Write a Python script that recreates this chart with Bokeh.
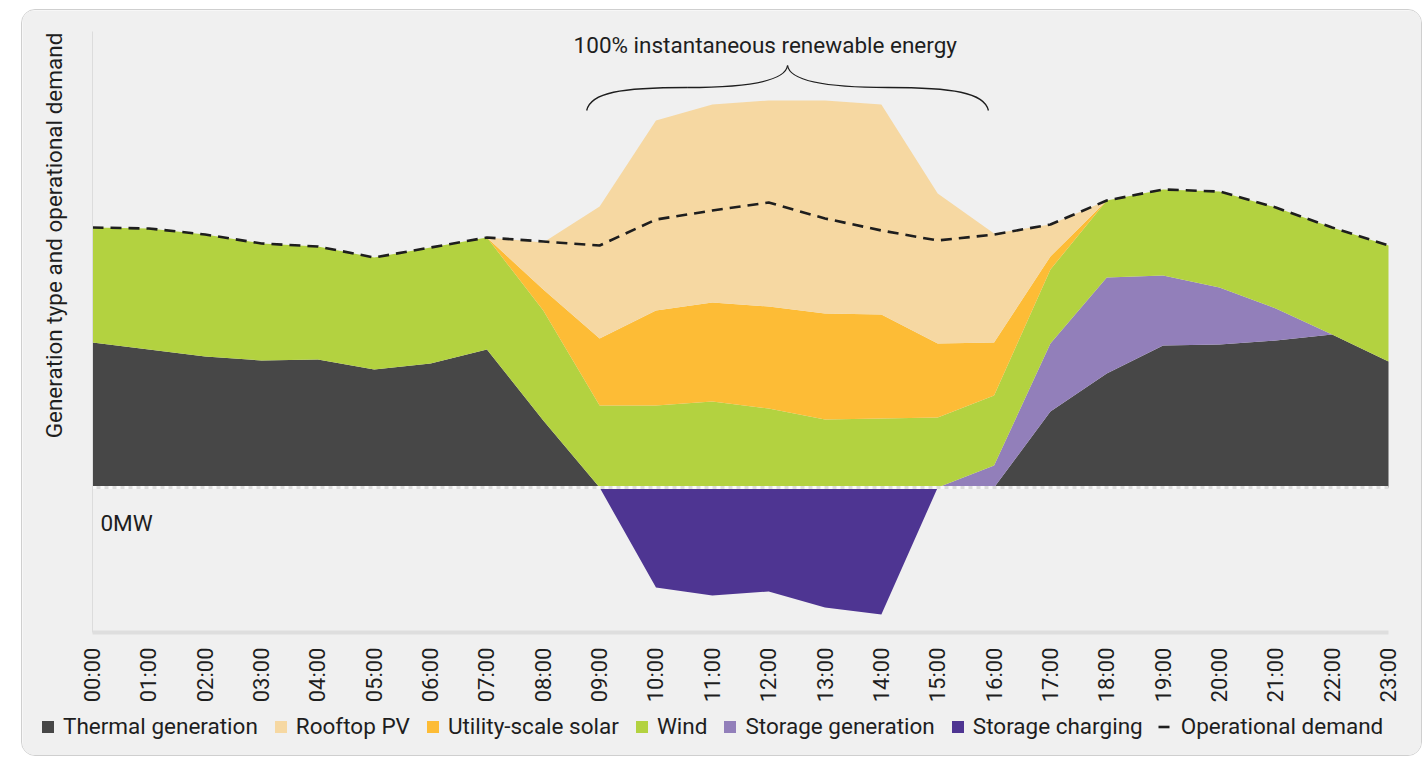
from math import pi
from bokeh.plotting import figure
from bokeh.models import (ColumnDataSource, Range1d, FixedTicker, Label,
                          Legend, LegendItem)
from bokeh.embed import file_html
from bokeh.resources import INLINE

# ---------------- data (MW) ----------------
hour_labels = ["00:00", "01:00", "02:00", "03:00", "04:00", "05:00", "06:00", "07:00",
               "08:00", "09:00", "10:00", "11:00", "12:00", "13:00", "14:00", "15:00",
               "16:00", "17:00", "18:00", "19:00", "20:00", "21:00", "22:00", "23:00"]
hours = list(range(24))

thermal = [1450, 1380, 1310, 1270, 1280, 1180, 1240, 1380, 670, 0, 0, 0,
           0, 0, 0, 0, 0, 760, 1140, 1420, 1430, 1470, 1530, 1260]
storage_gen = [0, 0, 0, 0, 0, 0, 0, 0, 0, 0, 0, 0,
               0, 0, 0, 0, 220, 680, 960, 700, 570, 320, 0, 0]
wind = [1150, 1210, 1220, 1170, 1130, 1120, 1160, 1120, 1100, 820, 820, 860,
        790, 680, 690, 700, 700, 740, 770, 860, 960, 1010, 1070, 1160]
utility_solar = [0, 0, 0, 0, 0, 0, 0, 0, 210, 670, 950, 990,
                 1020, 1060, 1040, 740, 530, 130, 0, 0, 0, 0, 0, 0]
rooftop_pv = [0, 0, 0, 0, 0, 0, 0, 0, 470, 1320, 1900, 1980,
              2060, 2130, 2100, 1500, 1090, 320, 0, 0, 0, 0, 0, 0]
storage_charging = [0, 0, 0, 0, 0, 0, 0, 0, 0, 0, -1000, -1080,
                    -1040, -1200, -1270, 0, 0, 0, 0, 0, 0, 0, 0, 0]
demand = [2600, 2590, 2530, 2440, 2410, 2300, 2400, 2500, 2460, 2420, 2680, 2770,
          2850, 2690, 2570, 2470, 2530, 2630, 2870, 2980, 2960, 2800, 2600, 2420]

series_names = ["Thermal generation", "Rooftop PV", "Utility-scale solar", "Wind",
                "Storage generation", "Storage charging", "Operational demand"]
colors = {"thermal": "#474747", "rooftop": "#f6d8a2", "utility": "#fdbc36",
          "wind": "#b3d240", "storgen": "#927fba", "charging": "#4e3592",
          "demand": "#1e1e1e"}

# value-axis extent (MW) and annotation geometry
y_min, y_max = -1450, 4560
brace_start, brace_end = 8.77, 15.9
brace_base, brace_mid, brace_tip = 3770, 4000, 4220

FONT = "Roboto"
FS = "22.5px"
TXT = "#1e1e1e"

# layout in pixels: the frame covers the whole card; axes are placed at fixed data spots
CARD_W, CARD_H = 1399, 745
PLOT_L, PLOT_R, PLOT_T, PLOT_B = 70, 33, 21, 123
kx = (CARD_W - PLOT_L - PLOT_R) / (hours[-1] - hours[0])     # px per hour
ky = (CARD_H - PLOT_T - PLOT_B) / (y_max - y_min)            # px per MW
x_range = Range1d(hours[0] - PLOT_L / kx, hours[-1] + PLOT_R / kx)
y_range = Range1d(y_min - PLOT_B / ky, y_max + PLOT_T / ky)

src = ColumnDataSource(dict(x=hours, thermal=thermal, storgen=storage_gen, wind=wind,
                            utility=utility_solar, rooftop=rooftop_pv,
                            charging=storage_charging, demand=demand,
                            zero=[0] * 24))

p = figure(frame_width=CARD_W, frame_height=CARD_H, output_backend="svg",
           toolbar_location=None, x_range=x_range, y_range=y_range,
           min_border=0)
p.styles = {"margin-left": "21px", "margin-top": "9px",
            "border": "1px solid #cfcfcf", "border-radius": "14px",
            "overflow": "hidden"}
p.background_fill_color = "#f0f0f0"
p.border_fill_color = "#f0f0f0"
p.outline_line_color = None
p.grid.visible = False

stack_r = p.varea_stack(stackers=["thermal", "storgen", "wind", "utility", "rooftop"],
                        x="x", source=src,
                        color=[colors["thermal"], colors["storgen"], colors["wind"],
                               colors["utility"], colors["rooftop"]])
r_th, r_sg, r_wi, r_ut, r_rf = stack_r
r_ch = p.varea(x="x", y1="zero", y2="charging", source=src, fill_color=colors["charging"])

# zero line (grey/white checkered)
p.line(x="x", y="zero", source=src, line_color="#dcdcdc", line_width=3)
p.line(x="x", y="zero", source=src, line_color="#fafafa", line_width=3, line_dash="4 4")

r_dm = p.line(x="x", y="demand", source=src, line_color=colors["demand"],
              line_width=2.6, line_dash="11 7")

# axes (drawn at fixed data locations inside the card)
xa = p.xaxis[0]
xa.fixed_location = y_min
xa.bounds = (hours[0], hours[-1])
xa.ticker = FixedTicker(ticks=hours)
xa.major_label_overrides = {h: lab for h, lab in zip(hours, hour_labels)}
xa.major_label_orientation = pi / 2
xa.major_tick_line_color = None
xa.minor_tick_line_color = None
xa.axis_line_color = "#dedede"
xa.axis_line_width = 4
xa.major_label_standoff = 9
xa.major_label_text_font = FONT
xa.major_label_text_font_size = "22px"
xa.major_label_text_color = TXT

ya = p.yaxis[0]
ya.fixed_location = hours[0]
ya.bounds = (y_min, y_max)
ya.ticker = FixedTicker(ticks=[])
ya.major_tick_line_color = None
ya.minor_tick_line_color = None
ya.axis_line_color = "#dcdcdc"
ya.axis_line_width = 1

# texts
p.add_layout(Label(x=hours[0] - 39 / kx, y=2520,
                   text="Generation type and operational demand",
                   angle=pi / 2, text_align="center", text_baseline="middle",
                   text_font=FONT, text_font_size=FS, text_color=TXT))
p.add_layout(Label(x=0.14, y=-350, text="0MW", text_align="left",
                   text_baseline="middle", text_font=FONT, text_font_size=FS,
                   text_color=TXT))
p.add_layout(Label(x=11.94, y=4430, text="100% instantaneous renewable energy",
                   text_align="center", text_baseline="middle", text_font=FONT,
                   text_font_size=FS, text_color=TXT))

# curly brace over the 100% renewable interval
w = brace_end - brace_start
cx = (brace_start + brace_end) / 2
lm = brace_start + 0.25 * w
rm = brace_end - 0.25 * w
p.bezier(x0=[brace_start, lm, cx, rm], y0=[brace_base, brace_mid, brace_tip, brace_mid],
         x1=[lm, cx, rm, brace_end], y1=[brace_mid, brace_tip, brace_mid, brace_base],
         cx0=[brace_start + 0.01 * w, lm + 0.16 * w, cx + 0.005 * w, rm + 0.16 * w],
         cy0=[brace_mid - 50, brace_mid, brace_mid + 70, brace_mid],
         cx1=[brace_start + 0.085 * w, cx - 0.005 * w, rm - 0.16 * w, brace_end - 0.01 * w],
         cy1=[brace_mid, brace_mid + 70, brace_mid, brace_mid - 50],
         line_color="#1e1e1e", line_width=1.3)

legend = Legend(items=[
    LegendItem(label=series_names[0], renderers=[r_th]),
    LegendItem(label=series_names[1], renderers=[r_rf]),
    LegendItem(label=series_names[2], renderers=[r_ut]),
    LegendItem(label=series_names[3], renderers=[r_wi]),
    LegendItem(label=series_names[4], renderers=[r_sg]),
    LegendItem(label=series_names[5], renderers=[r_ch]),
    LegendItem(label=series_names[6], renderers=[r_dm]),
], orientation="horizontal", location=(18, 16))
legend.label_text_font = FONT
legend.label_text_font_size = FS
legend.label_text_color = TXT
legend.glyph_width = 15
legend.glyph_height = 15
legend.label_standoff = 8
legend.spacing = 15
legend.padding = 0
legend.margin = 0
legend.background_fill_alpha = 0
legend.border_line_color = None
p.add_layout(legend, "center")

open("out.html", "w").write(file_html(p, INLINE))
